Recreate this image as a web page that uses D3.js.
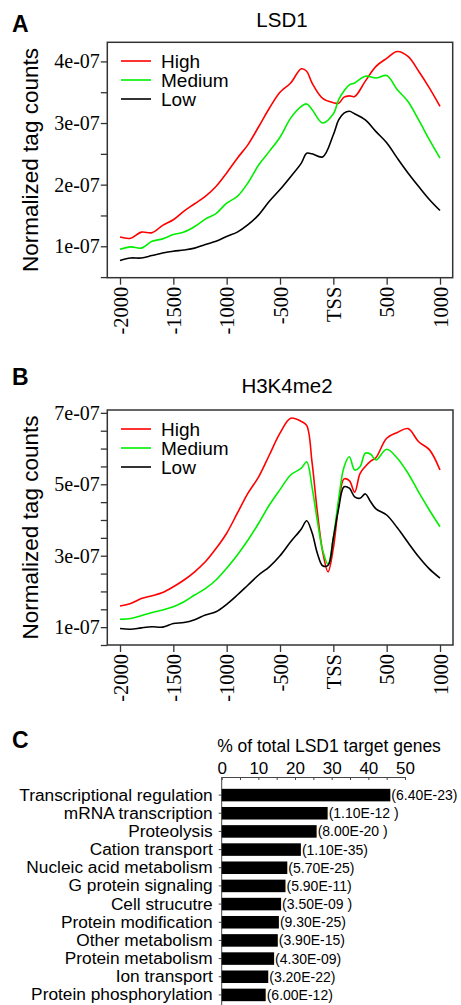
<!DOCTYPE html>
<html>
<head>
<meta charset="utf-8">
<script src="https://cdn.jsdelivr.net/npm/d3@7"></script>
<style>
body { margin: 0; background: #fff; }
svg text { font-family: "Liberation Sans", Arial, sans-serif; fill: #000; }
.serif text { font-family: "Liberation Serif", "Times New Roman", serif; }
</style>
</head>
<body>
<div id="chart"></div>
<script>
// profile values are in units of 1e-07 (normalized tag counts)
var positionsA = [-2000, -1900, -1800, -1700, -1600, -1500, -1400, -1300, -1200, -1100, -1000, -900, -800, -700, -600, -500,
    -400, -300, -250, -200, -100, 0, 50, 100, 150, 200, 300, 400, 500, 600, 700, 800, 900, 1000]
var highA = [1.15, 1.13, 1.23, 1.22, 1.34, 1.43, 1.57, 1.69, 1.81, 1.97, 2.19, 2.43, 2.65, 2.94, 3.24, 3.50,
    3.65, 3.88, 3.84, 3.65, 3.40, 3.33, 3.32, 3.42, 3.44, 3.43, 3.68, 3.92, 4.05, 4.16, 4.08, 3.84, 3.57, 3.27]
var mediumA = [0.95, 0.99, 0.97, 1.08, 1.12, 1.19, 1.23, 1.32, 1.44, 1.53, 1.70, 1.81, 2.03, 2.32, 2.54, 2.77,
    3.08, 3.27, 3.31, 3.22, 3.00, 3.15, 3.38, 3.52, 3.62, 3.65, 3.76, 3.73, 3.77, 3.54, 3.35, 3.05, 2.73, 2.43]
var lowA = [0.77, 0.81, 0.81, 0.85, 0.89, 0.92, 0.94, 0.97, 1.03, 1.08, 1.16, 1.23, 1.35, 1.51, 1.73, 1.92,
    2.13, 2.35, 2.51, 2.50, 2.45, 2.81, 3.05, 3.16, 3.19, 3.15, 3.05, 2.86, 2.68, 2.43, 2.19, 1.97, 1.76, 1.58]

var positionsB = [-2000, -1900, -1800, -1700, -1600, -1500, -1400, -1300, -1200, -1100, -1000, -900, -800, -700, -600, -500,
    -400, -300, -250, -200, -150, -100, -50, 0, 50, 100, 150, 200, 250, 300, 350, 400, 500, 600, 700, 800, 900, 1000]
var highB = [1.59, 1.66, 1.80, 1.88, 1.97, 2.13, 2.32, 2.55, 2.83, 3.20, 3.63, 4.19, 4.75, 5.21, 5.82, 6.43,
    6.85, 6.76, 6.65, 5.63, 4.23, 3.11, 2.55, 3.21, 4.42, 5.15, 5.10, 4.78, 5.30, 5.50, 5.65, 5.75, 6.29, 6.45, 6.56, 6.19, 5.97, 5.40]
var mediumB = [1.22, 1.24, 1.32, 1.41, 1.48, 1.57, 1.71, 1.90, 2.08, 2.32, 2.65, 3.02, 3.44, 3.91, 4.42, 4.85,
    5.26, 5.45, 5.63, 4.93, 3.98, 3.15, 2.76, 3.51, 4.59, 5.48, 5.77, 5.40, 5.49, 5.87, 5.84, 5.68, 5.98, 5.73, 5.31, 4.78, 4.28, 3.81]
var lowB = [0.96, 0.94, 0.98, 1.01, 1.00, 1.10, 1.13, 1.21, 1.34, 1.43, 1.64, 1.90, 2.18, 2.46, 2.69, 3.00,
    3.39, 3.75, 3.98, 3.65, 3.07, 2.72, 2.73, 3.49, 4.33, 4.93, 4.89, 4.65, 4.61, 4.73, 4.51, 4.31, 4.14, 3.78, 3.37, 2.97, 2.63, 2.37]

var seriesNames = ["High", "Medium", "Low"]
var seriesColors = ["#ff0000", "#00ee00", "#000000"]
var xTicks = [-2000, -1500, -1000, -500, 0, 500, 1000]
var yLabelsA = [1, 2, 3, 4]
var yLabelsB = [1, 3, 5, 7]

var categories = ["Transcriptional regulation", "mRNA transcription", "Proteolysis", "Cation transport",
    "Nucleic acid metabolism", "G protein signaling", "Cell strucutre", "Protein modification",
    "Other metabolism", "Protein metabolism", "Ion transport", "Protein phosphorylation"]
var percentGenes = [46.0, 28.9, 25.9, 21.6, 17.9, 17.4, 16.2, 15.6, 15.3, 14.3, 12.7, 12.0]
var pValues = ["(6.40E-23)", "(1.10E-12 )", "(8.00E-20 )", "(1.10E-35)", "(5.70E-25)", "(5.90E-11)",
    "(3.50E-09 )", "(9.30E-25)", "(3.90E-15)", "(4.30E-09)", "(3.20E-22)", "(6.00E-12)"]
var percentTicks = [0, 5, 10, 15, 20, 25, 30, 35, 40, 45, 50]

var svg = d3.select("#chart").append("svg")
    .attr("width", 461)
    .attr("height", 1005)

function profilePanel(p) {
    var x = d3.scaleLinear().domain([-2000, 1000]).range([120, 440])
    var y = d3.scaleLinear().domain(p.yDomain).range([p.bottom, p.top])

    var g = svg.append("g")

    g.append("text")
    .attr("x", 12).attr("y", p.letterY)
    .style("font-size", "23px").style("font-weight", "bold")
    .text(p.letter)

    g.append("text")
    .attr("x", p.titleX).attr("y", p.titleY)
    .attr("text-anchor", "middle")
    .style("font-size", "20.5px")
    .text(p.title)

    g.append("text")
    .attr("transform", "translate(38," + ((p.top + p.bottom) / 2) + ")rotate(-90)")
    .attr("text-anchor", "middle")
    .style("font-size", "22.5px")
    .text("Normalized tag counts")

    // y axis, ticks every 0.5e-07, labels only on some
    var yAxis = g.append("g")
    .attr("class", "serif")
    .attr("transform", "translate(107.3,0)")
    .call(d3.axisLeft(y)
        .tickValues(p.yTicks)
        .tickSize(6.5)
        .tickPadding(1)
        .tickFormat(function(d) { return p.yLabels.indexOf(d) >= 0 ? d + "e-07" : "" }))
    yAxis.select(".domain").remove()
    yAxis.selectAll("line").attr("stroke", "#333").attr("stroke-width", 1.3)
    yAxis.selectAll("text").style("font-size", "20px")

    var xAxis = g.append("g")
    .attr("class", "serif")
    .attr("transform", "translate(0," + p.bottom + ")")
    .call(d3.axisBottom(x)
        .tickValues(xTicks)
        .tickSize(7)
        .tickFormat(function(d) { return d === 0 ? "TSS" : d }))
    xAxis.select(".domain").remove()
    xAxis.selectAll("line").attr("stroke", "#333").attr("stroke-width", 1.3)
    xAxis.selectAll("text")
    .attr("transform", "rotate(-90)")
    .attr("text-anchor", "end")
    .attr("x", -9)
    .attr("y", 0)
    .attr("dy", "0.35em")
    .style("font-size", "20.5px")

    var line = d3.line()
    .x(function(d) { return x(d[0]) })
    .y(function(d) { return y(d[1]) })
    .curve(d3.curveCatmullRom.alpha(0.5))

    p.series.forEach(function(values, i) {
        g.append("path")
        .datum(d3.zip(p.positions, values))
        .attr("fill", "none")
        .attr("stroke", seriesColors[i])
        .attr("stroke-width", 1.6)
        .attr("stroke-linejoin", "round")
        .attr("d", line)
    })

    g.append("rect")
    .attr("x", 107.3).attr("y", p.top)
    .attr("width", p.right - 107.3).attr("height", p.bottom - p.top)
    .attr("fill", "none")
    .attr("stroke", "#333")
    .attr("stroke-width", 1.5)

    var legend = g.selectAll(".legend")
    .data(seriesNames)
    .enter().append("g")
    .attr("class", "legend")
    .attr("transform", function(d, i) { return "translate(121," + (p.legendY + i * 19) + ")" })

    legend.append("line")
    .attr("x1", 0).attr("x2", 30)
    .attr("stroke", function(d, i) { return seriesColors[i] })
    .attr("stroke-width", 1.6)

    legend.append("text")
    .attr("x", 40)
    .attr("dy", "0.36em")
    .style("font-size", "19px")
    .text(function(d) { return d })
}

profilePanel({
    letter: "A", letterY: 32, title: "LSD1", titleX: 282, titleY: 27,
    top: 42.3, bottom: 277.7, right: 452.7,
    yDomain: [0.49, 4.31], yTicks: d3.range(0.5, 4.01, 0.5), yLabels: yLabelsA,
    positions: positionsA, series: [highA, mediumA, lowA],
    legendY: 61
})

profilePanel({
    letter: "B", letterY: 385, title: "H3K4me2", titleX: 287, titleY: 393,
    top: 410, bottom: 645, right: 453,
    yDomain: [0.5, 7.08], yTicks: d3.range(0.5, 7.01, 0.5), yLabels: yLabelsB,
    positions: positionsB, series: [highB, mediumB, lowB],
    legendY: 429
})

// panel C: GO categories
var xC = d3.scaleLinear().domain([0, 50]).range([221.7, 405])
var yC = d3.scaleBand().domain(categories).range([786, 1004]).paddingInner(0.31).paddingOuter(0.155)

var gC = svg.append("g")

gC.append("text")
.attr("x", 12).attr("y", 748)
.style("font-size", "23px").style("font-weight", "bold")
.text("C")

gC.append("text")
.attr("x", 329).attr("y", 752)
.attr("text-anchor", "middle")
.style("font-size", "17.5px")
.text("% of total LSD1 target genes")

var topAxis = gC.append("g")
.attr("transform", "translate(0,777)")
.call(d3.axisTop(xC)
    .tickValues(percentTicks)
    .tickSizeInner(-3)
    .tickSizeOuter(0)
    .tickPadding(3)
    .tickFormat(function(d) { return d % 10 === 0 ? d : "" }))
topAxis.selectAll("line, path").attr("stroke", "#444")
topAxis.selectAll("text").style("font-size", "17px")

var leftAxis = gC.append("g")
.attr("transform", "translate(221.7,0)")
.call(d3.axisLeft(yC).tickSize(3).tickPadding(6))
leftAxis.select(".domain").remove()
leftAxis.selectAll("line").attr("stroke", "#444")
leftAxis.selectAll("text").style("font-size", "17.3px")

gC.append("line")
.attr("x1", 221.7).attr("x2", 221.7)
.attr("y1", 777).attr("y2", 1005)
.attr("stroke", "#444")

gC.selectAll(".bar")
.data(percentGenes)
.enter().append("rect")
.attr("class", "bar")
.attr("x", xC(0))
.attr("y", function(d, i) { return yC(categories[i]) })
.attr("width", function(d) { return xC(d) - xC(0) })
.attr("height", yC.bandwidth())
.attr("fill", "#000")

gC.selectAll(".pval")
.data(pValues)
.enter().append("text")
.attr("class", "pval")
.attr("x", function(d, i) { return xC(percentGenes[i]) + 1 })
.attr("y", function(d, i) { return yC(categories[i]) + yC.bandwidth() / 2 })
.attr("dy", "0.36em")
.style("font-size", "14px")
.style("white-space", "pre")
.text(function(d) { return d })
</script>
</body>
</html>
